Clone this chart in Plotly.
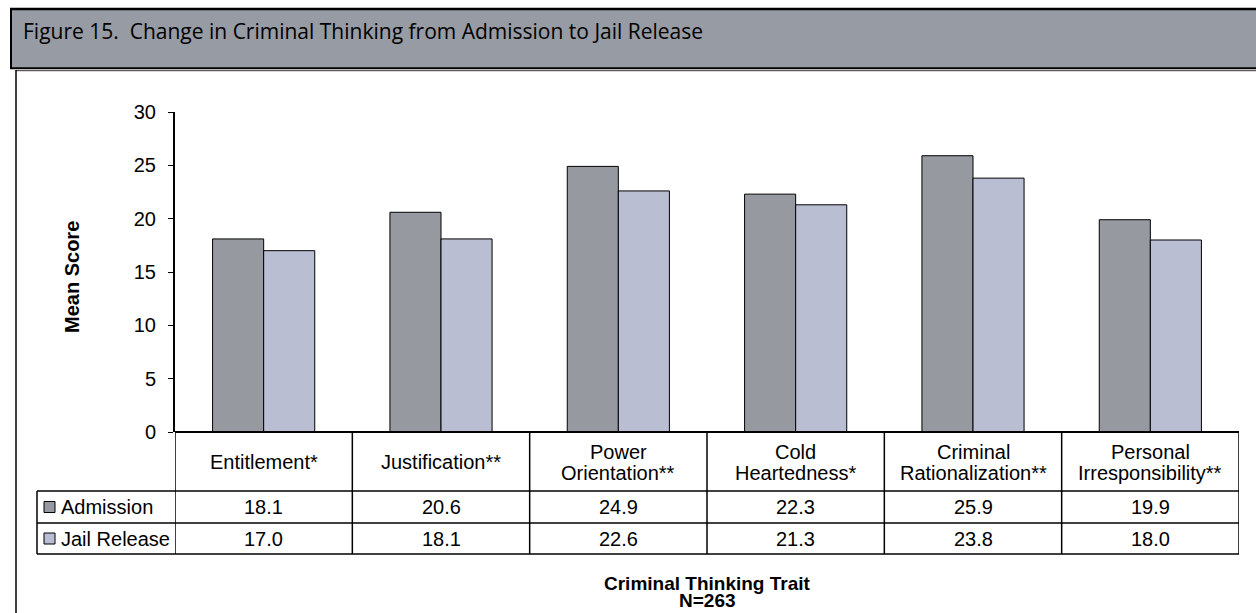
import plotly.graph_objects as go

# Data
traits_line1 = ["Entitlement*", "Justification**", "Power", "Cold", "Criminal", "Personal"]
traits_line2 = ["", "", "Orientation**", "Heartedness*", "Rationalization**", "Irresponsibility**"]
admission = [18.1, 20.6, 24.9, 22.3, 25.9, 19.9]
jail_release = [17.0, 18.1, 22.6, 21.3, 23.8, 18.0]
series_names = ["Admission", "Jail Release"]
y_ticks = [0, 5, 10, 15, 20, 25, 30]

W, H = 1256, 613
FONT = "Arial, Liberation Sans, sans-serif"
C_ADM = "#969AA0"
C_JAIL = "#B9BED2"
TXT = 20


def px(x):
    return x / W


def py(y):
    return 1 - y / H


idx = list(range(len(admission)))

fig = go.Figure()
fig.add_trace(go.Bar(x=idx, y=admission, name=series_names[0],
                     marker=dict(color=C_ADM, line=dict(color="black", width=1))))
fig.add_trace(go.Bar(x=idx, y=jail_release, name=series_names[1],
                     marker=dict(color=C_JAIL, line=dict(color="black", width=1))))

# Plot area geometry (pixels)
PL, PR, PT, PB = 175, 1239, 112, 432
ROW1, ROW2, ROW3 = 491, 523, 554
LEG_L = 37

shapes = []
# header band
shapes.append(dict(type="rect", xref="paper", yref="paper", x0=px(11), x1=1.0,
                   y0=py(68), y1=py(9), fillcolor="#979BA3", line=dict(width=0), layer="below"))
shapes.append(dict(type="line", xref="paper", yref="paper", x0=px(10), x1=1.0,
                   y0=py(9), y1=py(9), line=dict(color="black", width=2.5)))
shapes.append(dict(type="line", xref="paper", yref="paper", x0=px(10), x1=1.0,
                   y0=py(68.3), y1=py(68.3), line=dict(color="black", width=2)))
shapes.append(dict(type="line", xref="paper", yref="paper", x0=px(11), x1=px(11),
                   y0=py(8), y1=py(69), line=dict(color="black", width=2)))
# outer frame of chart box
shapes.append(dict(type="line", xref="paper", yref="paper", x0=px(16), x1=1.0,
                   y0=py(70.7), y1=py(70.7), line=dict(color="#333333", width=1)))
shapes.append(dict(type="line", xref="paper", yref="paper", x0=px(16), x1=px(16),
                   y0=py(70), y1=0, line=dict(color="black", width=1.5)))

# data table grid
def hline(y, x0):
    return dict(type="line", xref="paper", yref="paper", x0=px(x0), x1=px(PR),
                y0=py(y), y1=py(y), line=dict(color="black", width=1.5))


shapes.append(dict(type="line", xref="paper", yref="paper", x0=px(PL), x1=px(PR),
                   y0=py(PB), y1=py(PB), line=dict(color="black", width=2)))
for y in (ROW1, ROW2, ROW3):
    shapes.append(hline(y, LEG_L))
for i in range(len(idx) + 1):
    xv = i - 0.5
    shapes.append(dict(type="line", xref="x", yref="paper", x0=xv, x1=xv,
                       y0=py(PB), y1=py(ROW3), line=dict(color="black", width=1.5)))
shapes.append(dict(type="line", xref="paper", yref="paper", x0=px(LEG_L), x1=px(LEG_L),
                   y0=py(ROW1), y1=py(ROW3), line=dict(color="black", width=1.5)))
# legend keys in the table
for ry, col in ((507, C_ADM), (538.5, C_JAIL)):
    shapes.append(dict(type="rect", xref="paper", yref="paper", x0=px(44), x1=px(55),
                       y0=py(ry + 5.5), y1=py(ry - 5.5), fillcolor=col,
                       line=dict(color="black", width=1)))

ann = []
ann.append(dict(text="Figure 15.  Change in Criminal Thinking from Admission to Jail Release",
                x=px(21), y=py(31), xref="paper", yref="paper", xanchor="left", yanchor="middle",
                showarrow=False,
                font=dict(family="Open Sans, sans-serif", size=21, weight=500, color="black")))
# category header row
for i in idx:
    if traits_line2[i]:
        ann.append(dict(text=traits_line1[i], x=i, y=py(451.5), xref="x", yref="paper",
                        showarrow=False, yanchor="middle",
                        font=dict(family=FONT, size=TXT, color="black")))
        ann.append(dict(text=traits_line2[i], x=i, y=py(473), xref="x", yref="paper",
                        showarrow=False, yanchor="middle",
                        font=dict(family=FONT, size=TXT, color="black")))
    else:
        ann.append(dict(text=traits_line1[i], x=i, y=py(462), xref="x", yref="paper",
                        showarrow=False, yanchor="middle",
                        font=dict(family=FONT, size=TXT, color="black")))
# value rows
for vals, ry in ((admission, 507), (jail_release, 538.5)):
    for i, v in zip(idx, vals):
        ann.append(dict(text=f"{v:.1f}", x=i, y=py(ry), xref="x", yref="paper",
                        showarrow=False, yanchor="middle",
                        font=dict(family=FONT, size=TXT, color="black")))
for name, ry in zip(series_names, (507, 538.5)):
    ann.append(dict(text=name, x=px(59), y=py(ry), xref="paper", yref="paper",
                    xanchor="left", yanchor="middle", showarrow=False,
                    font=dict(family=FONT, size=TXT, color="black")))
# axis titles
ann.append(dict(text="<b>Criminal Thinking Trait</b>", x=px((PL + PR) / 2), y=py(583),
                xref="paper", yref="paper", showarrow=False, yanchor="middle",
                font=dict(family=FONT, size=19, color="black")))
ann.append(dict(text="<b>N=263</b>", x=px((PL + PR) / 2), y=py(600.5),
                xref="paper", yref="paper", showarrow=False, yanchor="middle",
                font=dict(family=FONT, size=19, color="black")))
ann.append(dict(text="<b>Mean Score</b>", x=px(72), y=py(277), xref="paper", yref="paper",
                showarrow=False, textangle=-90, xanchor="center", yanchor="middle",
                font=dict(family=FONT, size=20, color="black")))

fig.update_layout(
    width=W, height=H,
    margin=dict(l=0, r=0, t=0, b=0, pad=0, autoexpand=False),
    paper_bgcolor="white", plot_bgcolor="white",
    barmode="group", bargap=0.424, bargroupgap=0,
    showlegend=False,
    shapes=shapes, annotations=ann,
    xaxis=dict(domain=[px(PL), px(PR)], range=[-0.5, 5.5], showticklabels=False,
               automargin=False, showgrid=False, zeroline=False, showline=False, ticks=""),
    yaxis=dict(domain=[py(PB), py(PT)], range=[0, 30], tickvals=y_ticks, automargin=False,
               showgrid=False, zeroline=False, showline=True, linecolor="black", linewidth=2,
               ticks="outside", ticklen=5, tickcolor="black", tickwidth=1,
               ticklabelstandoff=8,
               tickfont=dict(family=FONT, size=TXT, color="black")),
)

fig.write_html("out.html")
